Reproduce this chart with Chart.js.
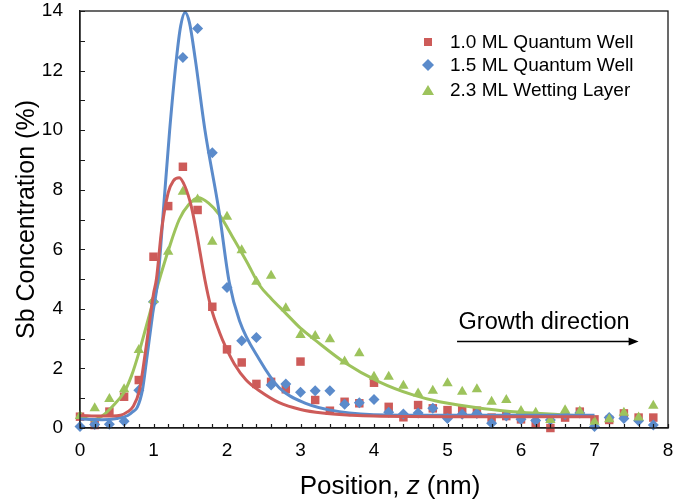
<!DOCTYPE html>
<html>
<head>
<meta charset="utf-8">
<title>Sb concentration profiles</title>
<script src="https://cdn.jsdelivr.net/npm/chart.js@4.4.0/dist/chart.umd.min.js"></script>
<style>
    html, body { margin: 0; padding: 0; background: #fff; }
    #wrap { width: 676px; height: 502px; position: relative; }
</style>
</head>
<body>
<div id="wrap"><canvas id="sbChart"></canvas></div>
<script>
/* ----- Data ----- */
const positions = [0, 0.2, 0.4, 0.6, 0.8, 1.0, 1.2, 1.4, 1.6, 1.8,
                   2.0, 2.2, 2.4, 2.6, 2.8, 3.0, 3.2, 3.4, 3.6, 3.8,
                   4.0, 4.2, 4.4, 4.6, 4.8, 5.0, 5.2, 5.4, 5.6, 5.8,
                   6.0, 6.2, 6.4, 6.6, 6.8, 7.0, 7.2, 7.4, 7.6, 7.8];

const well10 = [0.38, 0.10, 0.55, 1.05, 1.61, 5.75, 7.45, 8.77, 7.32, 4.07,
                2.64, 2.20, 1.48, 1.55, 1.30, 2.23, 0.94, 0.58, 0.88, 0.83,
                1.52, 0.71, 0.36, 0.77, 0.66, 0.60, 0.60, 0.58, 0.35, 0.40,
                0.29, 0.16, 0.00, 0.35, 0.55, 0.29, 0.27, 0.49, 0.35, 0.35];

const well15 = [0.05, 0.12, 0.13, 0.23, 1.27, 4.24, null, 12.44, 13.41, 9.24,
                4.72, 2.93, 3.04, 1.44, 1.48, 1.20, 1.25, 1.25, 0.80, 0.85,
                0.96, 0.53, 0.47, 0.50, 0.66, 0.32, 0.46, 0.49, 0.16, 0.40,
                0.29, 0.25, 0.27, 0.45, 0.50, 0.05, 0.35, 0.32, 0.24, 0.10];

const wetting23 = [0.40, 0.66, 0.97, 1.30, 2.62, 4.30, 5.92, 7.93, 7.67, 6.25,
                   7.09, 5.97, 4.91, 5.11, 4.02, 3.12, 3.09, 2.98, 2.23, 2.51,
                   1.72, 1.72, 1.42, 1.16, 1.25, 1.50, 1.22, 1.30, 0.88, 0.94,
                   0.57, 0.51, 0.27, 0.60, 0.55, 0.21, 0.29, 0.51, 0.35, 0.75];

// fitted profiles (solid lines)
const fit10X = [0, 0.3, 0.55, 0.65, 0.72, 0.81, 0.9, 1.0, 1.04, 1.11, 1.2, 1.27, 1.35, 1.43, 1.51, 1.58,
                1.7, 1.78, 1.9, 1.98, 2.1, 2.26, 2.44, 2.71, 3.0, 3.3, 3.7, 4.0, 5.0, 6.0, 7.0];
const fit10Y = [0.42, 0.40, 0.43, 0.55, 0.71, 1.28, 2.73, 4.5, 5.0, 6.64, 7.9, 8.3, 8.4, 8.1, 7.48, 6.64,
                4.97, 4.07, 3.2, 2.73, 2.15, 1.61, 1.25, 0.85, 0.62, 0.5, 0.43, 0.4, 0.38, 0.38, 0.38];

const fit15X = [0, 0.3, 0.5, 0.65, 0.72, 0.78, 0.85, 0.9, 0.99, 1.06, 1.14, 1.22, 1.31, 1.37, 1.43, 1.49,
                1.57, 1.7, 1.89, 2.03, 2.17, 2.44, 2.71, 3.07, 3.53, 4.2, 5.0, 6.0, 7.0];
const fit15Y = [0.30, 0.28, 0.32, 0.42, 0.55, 0.7, 1.28, 2.17, 3.85, 4.97, 7.48, 10.0, 12.35, 13.5, 13.95, 13.6,
                12.35, 10.0, 7.3, 4.9, 3.6, 2.3, 1.35, 0.83, 0.55, 0.44, 0.43, 0.43, 0.43];

const fit23X = [0, 0.17, 0.3, 0.45, 0.6, 0.7, 0.81, 0.9, 1.0, 1.1, 1.2, 1.35, 1.48, 1.61, 1.75, 1.9,
                2.1, 2.28, 2.44, 2.6, 2.8, 3.0, 3.2, 3.6, 4.07, 4.53, 4.89, 5.5, 6.0, 6.5, 7.0];
const fit23Y = [0.40, 0.27, 0.40, 0.75, 1.2, 1.75, 2.6, 3.4, 4.3, 5.15, 5.95, 7.0, 7.5, 7.73, 7.55, 7.15,
                6.31, 5.53, 4.8, 4.35, 3.85, 3.35, 2.95, 2.2, 1.55, 1.11, 0.88, 0.65, 0.53, 0.45, 0.38];

const seriesLabels = ['1.0 ML Quantum Well', '1.5 ML Quantum Well', '2.3 ML Wetting Layer'];
const xTicks = [0, 1, 2, 3, 4, 5, 6, 7, 8];
const yTicks = [0, 2, 4, 6, 8, 10, 12, 14];

/* ----- Styling ----- */
const FONT = '"Liberation Sans", Arial, Helvetica, sans-serif';
const RED = '#CD5B59';
const BLUE = '#5B8BCB';
const GREEN = '#9DC35C';

const toPoints = (xs, ys) => xs.map((x, i) => ({ x, y: ys[i] })).filter(p => p.y !== null);

function pointSet(label, values, color, style, radius, order) {
    return {
        label,
        data: toPoints(positions, values),
        showLine: false,
        pointStyle: style,
        pointRadius: radius,
        pointHoverRadius: radius,
        pointBackgroundColor: color,
        pointBorderColor: color,
        pointBorderWidth: 0,
        clip: false,
        order
    };
}

function fitSet(xs, ys, color) {
    return {
        label: 'fit',
        data: toPoints(xs, ys),
        showLine: true,
        borderColor: color,
        borderWidth: 3,
        pointRadius: 0,
        cubicInterpolationMode: 'monotone',
        fill: false,
        order: 0
    };
}

/* ----- Frame, inward ticks, titles, legend, annotation ----- */
const decorPlugin = {
    id: 'decor',
    afterDraw(chart) {
        const { ctx, chartArea: a, scales: { x, y } } = chart;
        ctx.save();

        // frame
        ctx.strokeStyle = '#1a1a1a';
        ctx.lineWidth = 1.3;
        ctx.strokeRect(a.left, a.top, a.right - a.left, a.bottom - a.top);

        // inward tick marks
        ctx.lineWidth = 1.2;
        ctx.beginPath();
        for (let v = 0; v <= 14; v++) {
            const py = Math.round(y.getPixelForValue(v)) + 0.5;
            ctx.moveTo(a.left, py);
            ctx.lineTo(a.left + 5, py);
        }
        for (let k = 0; k <= 40; k++) {
            const px = Math.round(x.getPixelForValue(k * 0.2)) + 0.5;
            ctx.moveTo(px, a.bottom);
            ctx.lineTo(px, a.bottom - 4);
        }
        ctx.stroke();

        // axis titles
        ctx.fillStyle = '#000';
        ctx.textBaseline = 'middle';
        const parts = [['Position, ', 'normal'], ['z', 'italic'], [' (nm)', 'normal']];
        let total = 0;
        parts.forEach(([t, s]) => { ctx.font = `${s} 26px ${FONT}`; total += ctx.measureText(t).width; });
        let tx = 390 - total / 2;
        ctx.textAlign = 'left';
        parts.forEach(([t, s]) => {
            ctx.font = `${s} 26px ${FONT}`;
            ctx.fillText(t, tx, 487);
            tx += ctx.measureText(t).width;
        });

        ctx.save();
        ctx.translate(27, (a.top + a.bottom) / 2);
        ctx.rotate(-Math.PI / 2);
        ctx.textAlign = 'center';
        ctx.font = `25px ${FONT}`;
        ctx.fillText('Sb Concentration (%)', 0, 0);
        ctx.restore();

        // legend (markers only)
        const lx = a.right - 240;
        const rows = [a.top + 31, a.top + 54, a.top + 79];
        ctx.font = `19px ${FONT}`;
        ctx.textAlign = 'left';
        rows.forEach((ry, i) => {
            if (i === 0) { ctx.fillStyle = RED; ctx.fillRect(lx - 4, ry - 4, 8, 8); }
            if (i === 1) {
                ctx.fillStyle = BLUE;
                ctx.beginPath();
                ctx.moveTo(lx - 6, ry); ctx.lineTo(lx, ry - 6); ctx.lineTo(lx + 6, ry); ctx.lineTo(lx, ry + 6);
                ctx.closePath(); ctx.fill();
            }
            if (i === 2) {
                ctx.fillStyle = GREEN;
                ctx.beginPath();
                ctx.moveTo(lx - 6, ry + 5); ctx.lineTo(lx, ry - 5); ctx.lineTo(lx + 6, ry + 5);
                ctx.closePath(); ctx.fill();
            }
            ctx.fillStyle = '#000';
            ctx.fillText(seriesLabels[i], lx + 22, ry + 1);
        });

        // growth direction arrow
        ctx.font = `23.5px ${FONT}`;
        ctx.fillText('Growth direction', x.getPixelForValue(5.15), y.getPixelForValue(3.55));
        const ay = Math.round(y.getPixelForValue(2.92)) + 0.5;
        const ax0 = x.getPixelForValue(5.13);
        const ax1 = x.getPixelForValue(7.6);
        ctx.strokeStyle = '#000';
        ctx.lineWidth = 1.5;
        ctx.beginPath();
        ctx.moveTo(ax0, ay);
        ctx.lineTo(ax1 - 8, ay);
        ctx.stroke();
        ctx.fillStyle = '#000';
        ctx.beginPath();
        ctx.moveTo(ax1, ay);
        ctx.lineTo(ax1 - 10, ay - 4);
        ctx.lineTo(ax1 - 10, ay + 4);
        ctx.closePath();
        ctx.fill();

        ctx.restore();
    }
};

/* ----- Chart ----- */
new Chart(document.getElementById('sbChart'), {
    type: 'scatter',
    data: {
        datasets: [
            fitSet(fit10X, fit10Y, RED),
            fitSet(fit15X, fit15Y, BLUE),
            fitSet(fit23X, fit23Y, GREEN),
            pointSet(seriesLabels[2], wetting23, GREEN, 'triangle', 6, 1),
            pointSet(seriesLabels[1], well15, BLUE, 'rectRot', 5.5, 2),
            pointSet(seriesLabels[0], well10, RED, 'rect', 6, 3)
        ]
    },
    options: {
        responsive: true,
        maintainAspectRatio: false,
        animation: false,
        layout: { padding: { top: 11, right: 8, left: 0, bottom: 0 } },
        plugins: {
            legend: { display: false },
            tooltip: { enabled: false }
        },
        scales: {
            x: {
                type: 'linear',
                min: 0,
                max: 8,
                afterFit: (s) => { s.height = 74; s.paddingLeft = 0; s.paddingRight = 0; },
                afterBuildTicks: (s) => { s.ticks = xTicks.map(v => ({ value: v })); },
                ticks: {
                    color: '#000',
                    font: { family: FONT, size: 19 },
                    padding: 11,
                    maxRotation: 0
                },
                grid: { display: false, drawTicks: false },
                border: { display: true, color: '#1a1a1a', width: 1.3 }
            },
            y: {
                type: 'linear',
                min: 0,
                max: 14,
                afterFit: (s) => { s.width = 80; s.paddingTop = 0; s.paddingBottom = 0; },
                afterBuildTicks: (s) => { s.ticks = yTicks.map(v => ({ value: v })); },
                ticks: {
                    color: '#000',
                    font: { family: FONT, size: 19 },
                    padding: 17
                },
                grid: { display: false, drawTicks: false },
                border: { display: true, color: '#1a1a1a', width: 1.3 }
            }
        }
    },
    plugins: [decorPlugin]
});
</script>
</body>
</html>
